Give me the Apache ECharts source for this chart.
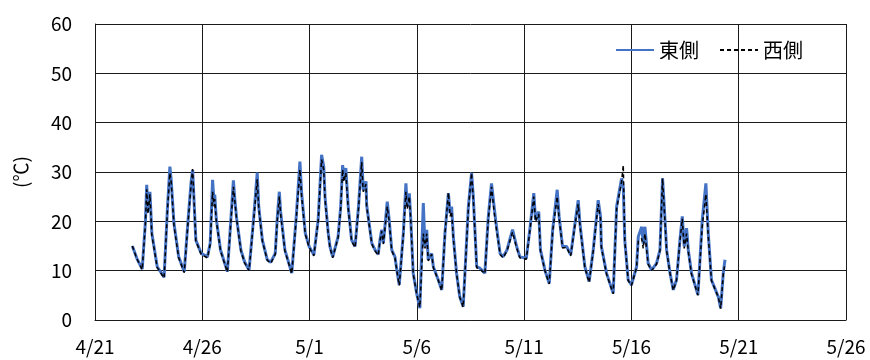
<!DOCTYPE html>
<html>
<head>
<meta charset="utf-8">
<script src="https://cdn.jsdelivr.net/npm/echarts@6/dist/echarts.min.js"></script>
<style>
  html, body { margin: 0; padding: 0; background: #fff; }
  #chart { width: 870px; height: 360px; }
</style>
</head>
<body>
<div id="chart"></div>
<script>
// x軸ラベル（5日おき）
const xLabels = ['4/21', '4/26', '5/1', '5/6', '5/11', '5/16', '5/21', '5/26']

// 4/21 0:00 からの経過日数
const dayOffset = [
  1.74, 1.95, 2.20, 2.35, 2.41, 2.47, 2.56, 2.65, 2.90, 3.22,
  3.38, 3.49, 3.55, 3.68, 3.90, 4.16, 4.35, 4.48, 4.55, 4.70,
  4.95, 5.24, 5.37, 5.48, 5.55, 5.58, 5.65, 5.85, 6.17, 6.32,
  6.45, 6.52, 6.60, 6.80, 6.97, 7.18, 7.40, 7.56, 7.63, 7.80,
  8.03, 8.19, 8.40, 8.50, 8.59, 8.65, 8.85, 9.17, 9.38, 9.55,
  9.63, 9.80, 9.98, 10.20, 10.40, 10.56, 10.66, 10.72, 10.87, 10.95,
  11.08, 11.33, 11.45, 11.54, 11.60, 11.69, 11.80, 11.96, 12.12, 12.28,
  12.43, 12.50, 12.63, 12.66, 12.90, 13.05, 13.20, 13.28, 13.36, 13.44,
  13.62, 13.71, 13.83, 13.98, 14.09, 14.18, 14.37, 14.49, 14.55, 14.65,
  14.71, 14.83, 14.99, 15.14, 15.30, 15.38, 15.46, 15.53, 15.69, 15.77,
  16.00, 16.16, 16.31, 16.47, 16.55, 16.62, 16.70, 16.85, 17.00, 17.16,
  17.40, 17.55, 17.63, 17.79, 17.94, 18.17, 18.33, 18.48, 18.60, 18.69,
  18.88, 19.02, 19.20, 19.46, 19.65, 19.80, 20.10, 20.28, 20.45, 20.53,
  20.68, 20.76, 20.97, 21.17, 21.33, 21.54, 21.63, 21.79, 21.98, 22.17,
  22.37, 22.52, 22.60, 22.83, 23.03, 23.22, 23.45, 23.56, 23.60, 23.84,
  24.15, 24.31, 24.54, 24.62, 24.69, 24.85, 25.00, 25.24, 25.32, 25.48,
  25.55, 25.63, 25.78, 25.94, 26.17, 26.33, 26.45, 26.53, 26.64, 26.80,
  26.95, 27.10, 27.26, 27.37, 27.46, 27.57, 27.65, 27.80, 28.10, 28.30,
  28.47, 28.58, 28.73, 28.89, 29.05, 29.16, 29.28, 29.36
]

// 東側 (℃)
const eastTemp = [
  15.0, 12.5, 10.3, 20.0, 27.4, 22.0, 26.0, 17.6, 10.8, 8.7,
  23.0, 31.1, 28.4, 19.6, 12.8, 9.8, 21.0, 28.0, 30.4, 16.2,
  13.5, 12.8, 15.6, 28.4, 23.5, 25.4, 20.6, 14.2, 9.8, 19.6,
  28.3, 24.3, 20.6, 14.2, 11.8, 10.1, 21.0, 29.9, 23.0, 16.2,
  12.2, 11.7, 13.5, 21.0, 26.0, 22.0, 14.2, 9.5, 21.0, 32.1,
  25.7, 17.6, 14.9, 13.2, 20.3, 33.5, 31.1, 25.0, 17.6, 14.9,
  12.8, 16.9, 23.0, 31.4, 28.4, 30.8, 23.0, 16.2, 14.9, 23.0,
  33.1, 26.4, 28.1, 23.3, 15.6, 14.2, 13.3, 16.2, 18.3, 15.6,
  24.0, 20.3, 14.2, 12.8, 9.5, 7.1, 17.6, 27.7, 23.0, 25.7,
  21.0, 9.5, 5.4, 2.4, 23.7, 14.9, 18.3, 12.2, 13.5, 10.8,
  8.1, 6.1, 17.6, 25.7, 21.6, 23.0, 16.9, 9.5, 4.7, 2.7,
  23.0, 29.8, 25.0, 10.8, 10.5, 9.5, 21.0, 27.7, 23.0, 19.6,
  13.5, 12.8, 14.2, 18.3, 14.9, 12.8, 12.5, 18.9, 25.7, 20.3,
  22.0, 14.2, 10.1, 7.4, 18.3, 26.4, 21.0, 14.9, 14.9, 13.2,
  19.6, 24.3, 19.6, 10.8, 7.8, 14.2, 24.3, 21.0, 14.9, 9.5,
  5.4, 23.0, 28.7, 27.0, 16.2, 8.1, 7.1, 10.8, 16.9, 18.9,
  15.5, 18.9, 11.5, 10.1, 11.5, 14.2, 28.7, 23.0, 14.2, 9.5,
  6.1, 8.1, 16.2, 21.0, 14.9, 18.6, 14.2, 9.5, 5.1, 20.3,
  27.7, 17.6, 8.1, 6.4, 4.7, 2.4, 9.5, 12.2
]

// 西側 (℃)
const westTemp = [
  15.0, 12.4, 10.2, 19.5, 26.5, 21.5, 25.5, 17.2, 10.6, 8.5,
  22.5, 29.8, 28.0, 19.2, 12.6, 9.6, 20.5, 27.5, 30.6, 16.0,
  13.3, 12.6, 15.3, 26.0, 23.0, 24.5, 20.2, 14.0, 9.7, 19.2,
  27.0, 24.0, 20.4, 14.0, 11.6, 10.0, 20.5, 28.5, 22.8, 16.0,
  12.1, 11.5, 13.3, 20.5, 25.0, 21.5, 14.0, 9.4, 20.5, 30.5,
  25.0, 17.4, 14.7, 13.0, 20.0, 32.5, 30.5, 24.5, 17.4, 14.7,
  12.6, 16.7, 22.5, 30.5, 28.0, 29.8, 22.6, 16.0, 14.7, 22.5,
  32.0, 26.0, 27.5, 23.0, 15.4, 14.0, 13.1, 16.0, 18.0, 15.4,
  23.0, 20.0, 14.0, 12.6, 9.3, 7.0, 17.2, 26.0, 22.5, 25.0,
  20.6, 9.4, 5.3, 2.6, 17.5, 14.5, 17.5, 12.0, 13.3, 10.6,
  8.0, 6.0, 17.5, 25.8, 21.0, 22.0, 16.5, 9.4, 4.6, 2.6,
  22.5, 29.8, 24.5, 10.6, 10.3, 9.4, 20.5, 27.0, 22.0, 19.0,
  13.3, 12.6, 14.0, 17.8, 14.6, 12.6, 12.3, 18.5, 25.0, 20.0,
  21.5, 14.0, 10.0, 7.3, 18.0, 25.0, 20.5, 14.6, 14.7, 13.0,
  19.2, 23.5, 19.2, 10.6, 7.6, 14.0, 23.5, 20.5, 14.7, 9.3,
  5.3, 22.5, 28.0, 31.4, 16.0, 8.0, 7.0, 10.6, 16.0, 16.5,
  14.5, 17.5, 11.3, 10.0, 11.3, 14.0, 28.7, 22.5, 14.0, 9.4,
  6.0, 8.0, 16.0, 20.5, 14.5, 17.5, 13.8, 9.3, 5.0, 19.0,
  25.5, 17.0, 8.0, 6.3, 4.6, 2.3, 9.3, 11.5
]

const fontFamily = '"Noto Sans CJK JP", "Noto Sans", sans-serif'
const gridColor = '#1a1a1a'

const chart = echarts.init(document.getElementById('chart'))

chart.setOption({
  animation: false,
  textStyle: { fontFamily: fontFamily },
  grid: { left: 95, right: 24, top: 24, bottom: 40 },
  legend: {
    data: ['東側', '西側'],
    left: 610,
    top: 35,
    itemWidth: 38,
    itemHeight: 14,
    itemGap: 20,
    itemStyle: { opacity: 0 },
    textStyle: { fontSize: 20, color: '#000', fontFamily: fontFamily }
  },
  xAxis: {
    type: 'value',
    min: 0,
    max: 35,
    interval: 5,
    axisLine: { show: true, lineStyle: { color: gridColor } },
    axisTick: { show: false },
    axisLabel: {
      margin: 17,
      fontSize: 19,
      color: '#000',
      formatter: (v) => xLabels[Math.round(v / 5)] || ''
    },
    splitLine: { show: true, lineStyle: { color: gridColor, width: 1 } }
  },
  yAxis: {
    type: 'value',
    min: 0,
    max: 60,
    interval: 10,
    name: '(℃)',
    nameLocation: 'middle',
    nameRotate: 90,
    nameGap: 65,
    nameTextStyle: { fontSize: 19, color: '#000' },
    axisLine: { show: true, lineStyle: { color: gridColor } },
    axisTick: { show: false },
    axisLabel: { margin: 23, fontSize: 19, color: '#000' },
    splitLine: { show: true, lineStyle: { color: gridColor, width: 1 } }
  },
  series: [
    {
      name: '東側',
      type: 'line',
      symbol: 'none',
      data: dayOffset.map((d, i) => [d, eastTemp[i]]),
      lineStyle: { color: '#4472C4', width: 3 },
      itemStyle: { color: '#4472C4' },
      z: 2
    },
    {
      name: '西側',
      type: 'line',
      symbol: 'none',
      data: dayOffset.map((d, i) => [d, westTemp[i]]),
      lineStyle: { color: '#000', width: 1.5, type: [4, 3] },
      itemStyle: { color: '#000' },
      z: 3
    }
  ]
})

window.addEventListener('resize', () => {
  chart.resize()
})
</script>
</body>
</html>
